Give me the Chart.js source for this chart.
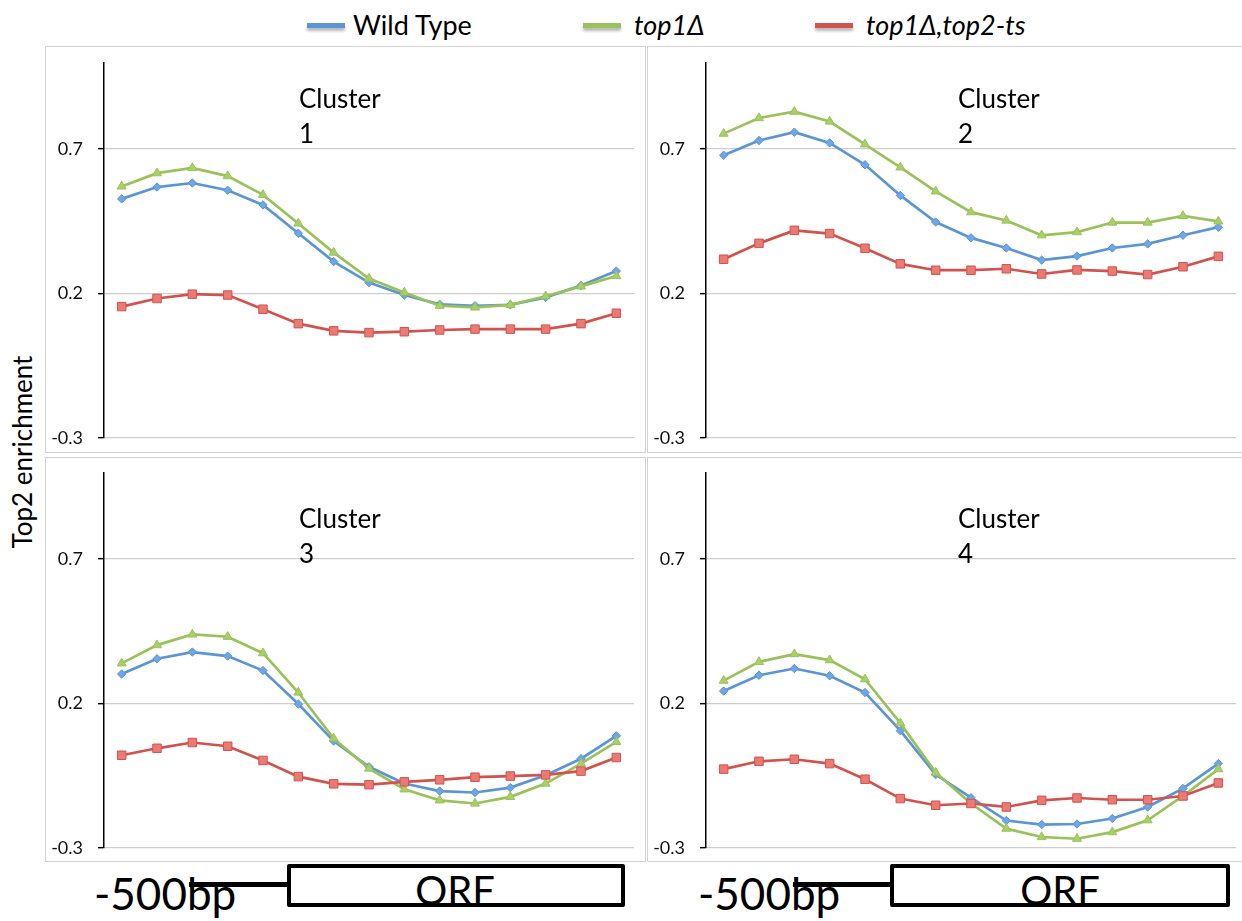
<!DOCTYPE html>
<html>
<head>
<meta charset="utf-8">
<script src="https://cdn.jsdelivr.net/npm/chart.js@4.4.1/dist/chart.umd.min.js"></script>
<style>
  html, body { margin: 0; padding: 0; background: #fff; overflow: hidden; }
  #stage { position: relative; width: 1242px; height: 921px; overflow: hidden; background: #fff;
           font-family: Lato, "Open Sans", "Liberation Sans", sans-serif; color: #000; }
  .abs { position: absolute; white-space: nowrap; }
  .frame { position: absolute; box-sizing: border-box; border: 1.5px solid #d2d2d2; }
  .legline { position: absolute; width: 38px; height: 5px; box-shadow: 0 3px 3px rgba(0,0,0,0.28); }
  .legtxt { position: absolute; font-size: 27px; line-height: 30px; }
  .cluster { position: absolute; font-size: 26px; line-height: 35px; }
  .orfbox { position: absolute; box-sizing: border-box; border: 4px solid #000; border-radius: 2px; background: #fff; }
  .stem { position: absolute; height: 5px; background: #000; }
</style>
</head>
<body>
<div id="stage"></div>
<script>
// Positions along the gene (bins from -500bp upstream through the ORF)
const categories = ['1','2','3','4','5','6','7','8','9','10','11','12','13','14','15'];
const yTicks = [-0.3, 0.2, 0.7];
const yMin = -0.3;
const yMax = 1.0;

const seriesNames = ['Wild Type', 'top1\u0394', 'top1\u0394,top2-ts'];

// Cluster 1
const c1WildType = [0.527, 0.568, 0.582, 0.557, 0.506, 0.408, 0.310, 0.237, 0.194, 0.162, 0.157, 0.160, 0.186, 0.227, 0.277];
const c1Top1     = [0.570, 0.616, 0.634, 0.606, 0.541, 0.442, 0.341, 0.251, 0.203, 0.157, 0.151, 0.160, 0.190, 0.224, 0.260];
const c1Top1Top2 = [0.154, 0.182, 0.197, 0.194, 0.145, 0.095, 0.070, 0.064, 0.067, 0.073, 0.076, 0.076, 0.076, 0.095, 0.131];
// Cluster 2
const c2WildType = [0.678, 0.729, 0.758, 0.721, 0.645, 0.539, 0.447, 0.392, 0.357, 0.315, 0.329, 0.357, 0.371, 0.401, 0.429];
const c2Top1     = [0.753, 0.807, 0.829, 0.795, 0.716, 0.636, 0.553, 0.481, 0.452, 0.401, 0.412, 0.445, 0.445, 0.468, 0.449];
const c2Top1Top2 = [0.318, 0.373, 0.418, 0.407, 0.356, 0.302, 0.280, 0.280, 0.285, 0.267, 0.281, 0.277, 0.265, 0.292, 0.328];
// Cluster 3
const c3WildType = [0.302, 0.355, 0.378, 0.364, 0.314, 0.198, 0.070, -0.019, -0.077, -0.103, -0.108, -0.091, -0.048, 0.009, 0.088];
const c3Top1     = [0.339, 0.402, 0.439, 0.431, 0.374, 0.238, 0.079, -0.025, -0.097, -0.135, -0.146, -0.123, -0.077, -0.008, 0.067];
const c3Top1Top2 = [0.021, 0.045, 0.065, 0.052, 0.003, -0.053, -0.078, -0.081, -0.071, -0.064, -0.055, -0.051, -0.047, -0.034, 0.013];
// Cluster 4
const c4WildType = [0.243, 0.298, 0.321, 0.296, 0.238, 0.106, -0.046, -0.126, -0.205, -0.219, -0.217, -0.198, -0.158, -0.094, -0.008];
const c4Top1     = [0.279, 0.344, 0.371, 0.350, 0.284, 0.132, -0.039, -0.146, -0.233, -0.262, -0.268, -0.245, -0.204, -0.120, -0.027];
const c4Top1Top2 = [-0.027, 0.000, 0.007, -0.008, -0.062, -0.129, -0.152, -0.146, -0.158, -0.135, -0.127, -0.133, -0.133, -0.120, -0.075];

const clusterLabels = ['1', '2', '3', '4'];
const clusterData = [
  [c1WildType, c1Top1, c1Top1Top2],
  [c2WildType, c2Top1, c2Top1Top2],
  [c3WildType, c3Top1, c3Top1Top2],
  [c4WildType, c4Top1, c4Top1Top2]
];

// ---- styling ----
const lineColors   = ['#5b95d6', '#9bc25a', '#d2534e'];
const markerFills  = ['#6ea6e6', '#a9d066', '#ea7a74'];
const markerStyles = ['rectRot', 'triangle', 'rect'];
const markerSizes  = [4.2, 5.2, 6];

const stage = document.getElementById('stage');
function el(cls, css, text) {
  const d = document.createElement('div');
  d.className = cls;
  Object.assign(d.style, css);
  if (text !== undefined) d.textContent = text;
  stage.appendChild(d);
  return d;
}

// legend
const legendSpots = [
  { line: 307, text: 353, italic: false },
  { line: 583, text: 634, italic: true },
  { line: 815, text: 866, italic: true }
];
legendSpots.forEach((s, i) => {
  el('legline', { left: s.line + 'px', top: '23px', background: lineColors[i] });
  el('legtxt', { left: s.text + 'px', top: '10px', fontStyle: s.italic ? 'italic' : 'normal' }, seriesNames[i]);
});

// y-axis title
el('abs', { left: '22px', top: '452px', fontSize: '26px', lineHeight: '28px',
            transform: 'translate(-50%,-50%) rotate(-90deg)' }, 'Top2 enrichment');

// panel layout: frame box plus chart-area insets
const panels = [
  { x: 45,  y: 46,  w: 601, h: 407, top: 16.3, bottom: 15.3, right: 12, lx: 299, ly: 81 },
  { x: 647, y: 46,  w: 596, h: 407, top: 16.3, bottom: 15.3, right: 4,  lx: 958, ly: 81 },
  { x: 45,  y: 457, w: 601, h: 405, top: 15.3, bottom: 14,   right: 12, lx: 299, ly: 501 },
  { x: 647, y: 457, w: 596, h: 405, top: 15.3, bottom: 14,   right: 4,  lx: 958, ly: 501 }
];

panels.forEach((p, idx) => {
  el('frame', { left: p.x + 'px', top: p.y + 'px', width: p.w + 'px', height: p.h + 'px' });
  const holder = el('abs', { left: p.x + 'px', top: p.y + 'px', width: p.w + 'px', height: p.h + 'px' });
  const canvas = document.createElement('canvas');
  canvas.width = p.w; canvas.height = p.h;
  holder.appendChild(canvas);

  const datasets = clusterData[idx].map((vals, i) => ({
    label: seriesNames[i],
    data: vals,
    borderColor: lineColors[i],
    backgroundColor: markerFills[i],
    pointBorderColor: lineColors[i],
    pointBackgroundColor: markerFills[i],
    pointBorderWidth: 1,
    pointStyle: markerStyles[i],
    pointRadius: markerSizes[i],
    borderWidth: 2.7,
    tension: 0,
    fill: false,
    order: 3 - i
  }));

  new Chart(canvas, {
    type: 'line',
    data: { labels: categories, datasets },
    options: {
      responsive: false,
      animation: false,
      devicePixelRatio: 1,
      layout: { padding: { left: 0, top: p.top, bottom: p.bottom, right: p.right } },
      plugins: { legend: { display: false }, tooltip: { enabled: false } },
      scales: {
        x: { type: 'category', offset: true, display: false },
        y: {
          min: yMin, max: yMax,
          afterBuildTicks: (axis) => { axis.ticks = yTicks.map(v => ({ value: v })); },
          afterFit: (axis) => {
            axis.width = 59;
            axis.paddingTop = 0;
            axis.paddingBottom = 0;
          },
          ticks: {
            color: '#111',
            padding: 15,
            font: { family: 'Lato, "Open Sans", sans-serif', size: 18 },
            callback: (v) => String(Math.round(v * 10) / 10)
          },
          grid: { color: '#cdcdcd', lineWidth: 1.3, tickColor: '#000', tickLength: 6, tickWidth: 1.5 },
          border: { display: true, color: '#000', width: 1.5 }
        }
      }
    }
  });

  el('cluster', { left: p.lx + 'px', top: p.ly + 'px' }).innerHTML = 'Cluster<br>' + clusterLabels[idx];
});

// gene diagrams under the lower panels
const genes = [
  { label: 94,  stemL: 189, boxL: 287, boxR: 625, orfC: 455 },
  { label: 698, stemL: 793, boxL: 890, boxR: 1230, orfC: 1060 }
];
genes.forEach(g => {
  el('stem', { left: g.stemL + 'px', top: '882px', width: (g.boxL - g.stemL + 2) + 'px' });
  el('orfbox', { left: g.boxL + 'px', top: '864px', width: (g.boxR - g.boxL) + 'px', height: '43px' });
  el('abs', { left: g.label + 'px', top: '871px', fontSize: '44px', lineHeight: '44px' }, '-500bp');
  el('abs', { left: g.orfC + 'px', top: '870px', fontSize: '40px', lineHeight: '40px',
              transform: 'translateX(-50%)' }, 'ORF');
});
</script>
</body>
</html>
